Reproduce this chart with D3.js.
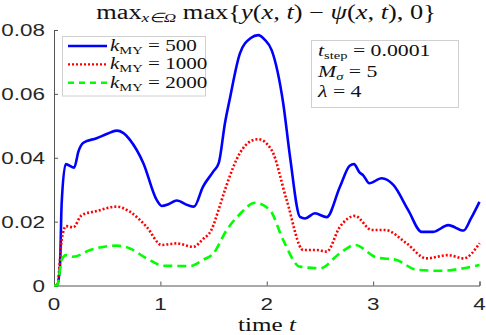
<!DOCTYPE html>
<html>
<head>
<meta charset="utf-8">
<script src="https://cdn.jsdelivr.net/npm/d3@7"></script>
<style>
  html, body { margin: 0; padding: 0; background: #fff; }
  svg { display: block; }
</style>
</head>
<body>
<svg id="chart" width="486" height="335"></svg>
<script>
// series (time t, value)
const blueT = [0, 0.03, 0.056, 0.072, 0.11, 0.19, 0.23, 0.276, 0.40, 0.50, 0.589, 0.65, 0.714, 0.84, 0.965, 1.012, 1.08, 1.153, 1.262, 1.316, 1.40, 1.50, 1.55, 1.607, 1.65, 1.748, 1.85, 1.92, 1.98, 2.046, 2.155, 2.22, 2.312, 2.36, 2.453, 2.563, 2.688, 2.78, 2.82, 2.87, 2.907, 2.964, 3.08, 3.19, 3.33, 3.456, 3.565, 3.706, 3.85, 3.92, 4.0]
const blueV = [0, 0, 0.006, 0.0257, 0.038, 0.0369, 0.042, 0.0447, 0.0461, 0.0475, 0.0485, 0.0478, 0.0456, 0.0383, 0.0268, 0.0249, 0.0255, 0.0266, 0.0251, 0.0247, 0.0309, 0.0358, 0.0385, 0.0508, 0.058, 0.0727, 0.0775, 0.0784, 0.077, 0.0737, 0.057, 0.040, 0.0215, 0.021, 0.0226, 0.0214, 0.0309, 0.0375, 0.038, 0.0355, 0.0345, 0.032, 0.0336, 0.0315, 0.0236, 0.0168, 0.0168, 0.0189, 0.0172, 0.021, 0.0262]

const redT = [0, 0.03, 0.072, 0.113, 0.18, 0.26, 0.40, 0.589, 0.714, 0.87, 1.012, 1.153, 1.31, 1.40, 1.48, 1.55, 1.607, 1.748, 1.85, 1.92, 2.046, 2.187, 2.343, 2.47, 2.563, 2.688, 2.83, 2.986, 3.11, 3.315, 3.50, 3.706, 3.85, 4.0]
const redV = [0, 0, 0.0142, 0.0186, 0.0182, 0.022, 0.0233, 0.0247, 0.0231, 0.0184, 0.0127, 0.0132, 0.0121, 0.0145, 0.0174, 0.024, 0.0299, 0.0415, 0.0452, 0.0458, 0.0424, 0.0268, 0.0111, 0.0111, 0.0106, 0.0184, 0.0218, 0.0174, 0.0174, 0.0132, 0.0085, 0.0095, 0.0085, 0.0132]

const greenT = [0, 0.03, 0.072, 0.113, 0.18, 0.34, 0.589, 0.714, 0.87, 1.03, 1.28, 1.40, 1.50, 1.62, 1.748, 1.89, 2.03, 2.155, 2.31, 2.5, 2.688, 2.83, 3.03, 3.22, 3.41, 3.63, 3.85, 4.0]
const greenV = [0, 0, 0.008, 0.0095, 0.009, 0.0111, 0.0125, 0.0116, 0.0085, 0.0062, 0.0061, 0.008, 0.0101, 0.0172, 0.0224, 0.0259, 0.0236, 0.0142, 0.0059, 0.0054, 0.0101, 0.0127, 0.0088, 0.008, 0.0049, 0.0046, 0.0054, 0.0064]

const seriesNames = ["500", "1000", "2000"]
const xTicks = [0, 1, 2, 3, 4]
const yTicks = [0, 0.02, 0.04, 0.06, 0.08]
const boxLines = [
  ["t", "step", " = 0.0001"],
  ["M", "σ", " = 5"],
  ["λ", "", " = 4"],
]

const svg = d3.select("#chart")
const SX = 1.32 // the reference glyphs are stretched sideways
const sans = "'Liberation Sans', Arial, sans-serif"
const serif = "'Liberation Serif', 'Times New Roman', serif"
const axisColor = "#555"

const x = d3.scaleLinear().domain([0, 4]).range([54, 479.5])
const y = d3.scaleLinear().domain([0, 0.08]).range([285.5, 30])

// place a horizontally stretched text group
function label(px, py, anchor) {
  return svg.append("g")
    .attr("transform", `translate(${px},${py}) scale(${SX},1)`)
    .append("text")
    .attr("text-anchor", anchor)
}

// axes: left and bottom only, ticks pointing inward
const xAxis = d3.axisBottom(x).tickValues(xTicks).tickSize(-4).tickFormat("")
const yAxis = d3.axisLeft(y).tickValues(yTicks).tickSize(-4).tickFormat("")
const gx = svg.append("g").attr("transform", `translate(0,${y(0)})`).call(xAxis)
const gy = svg.append("g").attr("transform", `translate(${x(0)},0)`).call(yAxis)
for (const g of [gx, gy]) {
  g.select(".domain").attr("stroke", axisColor).attr("stroke-width", 1)
  g.selectAll(".tick line").attr("stroke", axisColor)
}

xTicks.forEach((t) => {
  label(x(t), 310, "middle")
    .attr("font-family", sans).attr("font-size", 17).attr("fill", "#262626")
    .text(d3.format("d")(t))
})
yTicks.forEach((v) => {
  label(45, y(v) + 6, "end")
    .attr("font-family", sans).attr("font-size", 17).attr("fill", "#262626")
    .text(v === 0 ? "0" : d3.format(".2f")(v))
})

// curves
const line = d3.line()
  .x((d) => x(d[0]))
  .y((d) => y(d[1]))
  .curve(d3.curveMonotoneX)

const series = [
  { t: blueT, v: blueV, color: "#0000ff", dash: null },
  { t: redT, v: redV, color: "#ff0000", dash: "2,2" },
  { t: greenT, v: greenV, color: "#00ff00", dash: "9,5" },
]

series.forEach((s) => {
  svg.append("path")
    .datum(d3.zip(s.t, s.v))
    .attr("fill", "none")
    .attr("stroke", s.color)
    .attr("stroke-width", 2.6)
    .attr("stroke-dasharray", s.dash)
    .attr("d", line)
})

// legend
svg.append("rect")
  .attr("x", 62.5).attr("y", 36.5).attr("width", 143).attr("height", 59.5)
  .attr("fill", "#fff").attr("stroke", "#d0d0d0")

series.forEach((s, i) => {
  const ry = 46 + i * 18.4
  svg.append("line")
    .attr("x1", 68).attr("x2", 107).attr("y1", ry).attr("y2", ry)
    .attr("stroke", s.color).attr("stroke-width", 2.4)
    .attr("stroke-dasharray", s.dash === "9,5" ? "6,5" : s.dash)
  const t = label(110, ry + 5, "start")
    .attr("font-family", serif).attr("font-size", 16).attr("fill", "#111")
  t.append("tspan").attr("font-style", "italic").text("k")
  t.append("tspan").attr("font-size", 11).attr("dy", 3).text("MY")
  t.append("tspan").attr("dy", -3).text(" = " + seriesNames[i])
})

// parameter box
svg.append("rect")
  .attr("x", 311.5).attr("y", 40.5).attr("width", 147).attr("height", 67)
  .attr("fill", "#fff").attr("stroke", "#d0d0d0")

boxLines.forEach((row, i) => {
  const t = label(318, 56 + i * 20.5, "start")
    .attr("font-family", serif).attr("font-size", 16.5).attr("fill", "#111")
  t.append("tspan").attr("font-style", "italic").text(row[0])
  if (row[1]) {
    t.append("tspan").attr("font-size", 11)
      .attr("font-style", row[1] === "σ" ? "italic" : "normal")
      .attr("dy", 3).text(row[1])
    t.append("tspan").attr("dy", -3).text(row[2])
  } else {
    t.append("tspan").text(row[2])
  }
})

// title
const title = label(266, 19, "middle")
  .attr("font-family", serif).attr("font-size", 20).attr("fill", "#111")
title.append("tspan").text("max")
title.append("tspan").attr("font-size", 13).attr("font-style", "italic").attr("dy", 3).text("x∈Ω")
title.append("tspan").attr("dy", -3).text(" max{")
title.append("tspan").attr("font-style", "italic").text("y")
title.append("tspan").text("(")
title.append("tspan").attr("font-style", "italic").text("x, t")
title.append("tspan").text(") − ")
title.append("tspan").attr("font-style", "italic").text("ψ")
title.append("tspan").text("(")
title.append("tspan").attr("font-style", "italic").text("x, t")
title.append("tspan").text("), 0}")

// x label
const xl = label(267, 331, "middle")
  .attr("font-family", serif).attr("font-size", 19).attr("fill", "#111")
xl.append("tspan").text("time ")
xl.append("tspan").attr("font-style", "italic").text("t")
</script>
</body>
</html>
